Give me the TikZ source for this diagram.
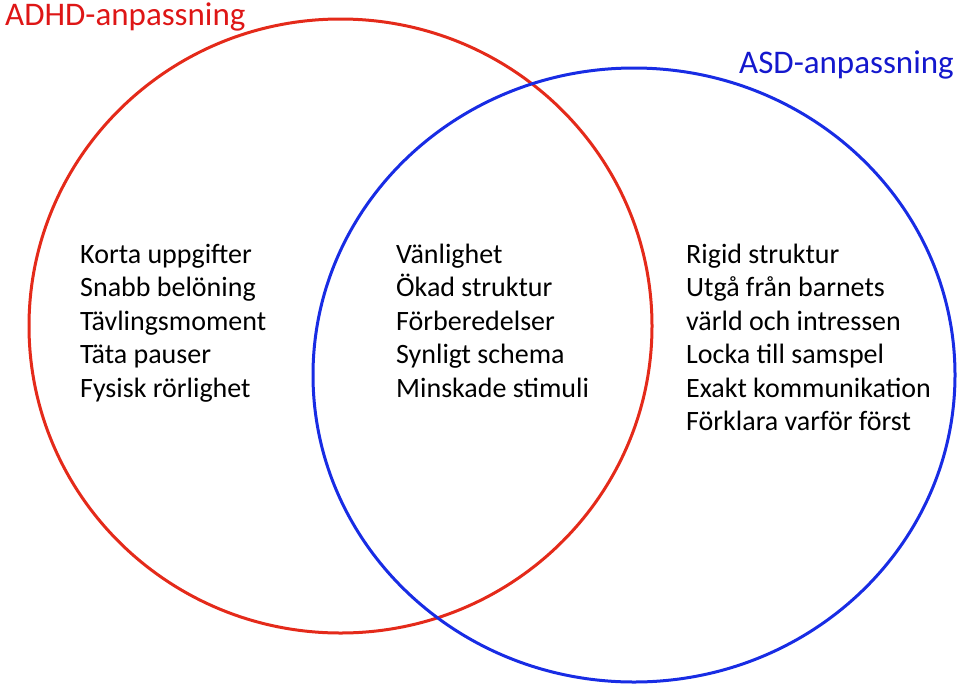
\documentclass[tikz,border=0pt]{standalone}
\usepackage{fontspec}
\setmainfont{Carlito}
\definecolor{adhdred}{RGB}{228,42,26}
\definecolor{asdblue}{RGB}{24,44,228}
\definecolor{adhdtext}{RGB}{222,22,22}
\definecolor{asdtext}{RGB}{20,24,205}
\tikzset{
    ring/.style={line width=3pt},
    item/.style={anchor=base west, inner sep=0pt, font=\fontsize{28}{33.5}\selectfont},
    heading/.style={anchor=base west, inner sep=0pt, font=\fontsize{33}{38}\selectfont}
}
\begin{document}
\begin{tikzpicture}[x=1pt,y=-1pt]
        \useasboundingbox (0,0) rectangle (960,691);
        \draw [ring, adhdred] (340.5,326) ellipse [x radius=311.5, y radius=307];
        \draw [ring, asdblue] (634,375) ellipse [x radius=321, y radius=307];
        \node [heading, text=adhdtext] (adhd) at (5,25) {ADHD-anpassning};
        \node [heading, text=asdtext] (asd) at (739,73) {ASD-anpassning};
        % ADHD only
        \node [item] (l1) at (80,263) {Korta uppgifter};
        \node [item] (l2) at (80,296.5) {Snabb belöning};
        \node [item] (l3) at (80,330) {Tävlingsmoment};
        \node [item] (l4) at (80,363.5) {Täta pauser};
        \node [item] (l5) at (80,397) {Fysisk rörlighet};
        % both
        \node [item] (m1) at (396,263) {Vänlighet};
        \node [item] (m2) at (396,296.5) {Ökad struktur};
        \node [item] (m3) at (396,330) {Förberedelser};
        \node [item] (m4) at (396,363.5) {Synligt schema};
        \node [item] (m5) at (396,397) {Minskade stimuli};
        % ASD only
        \node [item] (r1) at (686,263) {Rigid struktur};
        \node [item] (r2) at (686,296.5) {Utgå från barnets};
        \node [item] (r3) at (686,330) {värld och intressen};
        \node [item] (r4) at (686,363.5) {Locka till samspel};
        \node [item] (r5) at (686,397) {Exakt kommunikation};
        \node [item] (r6) at (686,430.5) {Förklara varför först};
    \end{tikzpicture}
\end{document}
